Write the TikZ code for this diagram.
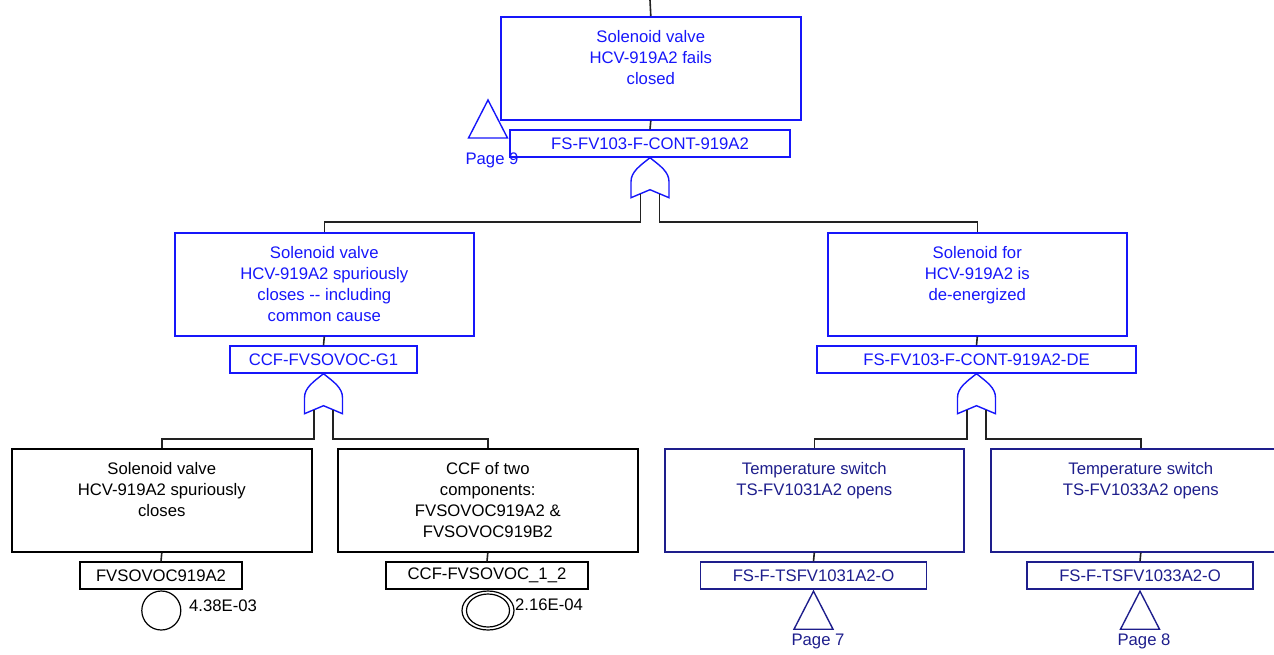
\documentclass[tikz,border=0pt]{standalone}
\usepackage{fontspec}
\setmainfont{Liberation Sans}
\usetikzlibrary{shapes.geometric}
\definecolor{gblue}{RGB}{22,22,250}
\definecolor{navy}{RGB}{30,30,140}
\definecolor{wire}{RGB}{34,34,34}
\begin{document}
\begin{tikzpicture}[x=1pt,y=-1pt,
  every node/.style={font=\fontsize{16.7}{20.8}\selectfont},
  evbox/.style={draw, line width=1.6pt, minimum width=#1, minimum height=103,
    inner sep=0, anchor=north west},
  evtext/.style={anchor=north, align=center, inner sep=0},
  lbl/.style={draw, line width=1.4pt, minimum width=#1, minimum height=27, inner sep=0},
  wire/.style={draw=wire, line width=1.6pt},
  orgate/.pic={
    \draw[line width=1.4pt, line join=miter]
      (0,0) .. controls (-10,8) and (-19,14) .. (-19,24) -- (-19,40) -- (0,32)
      -- (19,40) -- (19,24) .. controls (19,14) and (10,8) .. (0,0) -- cycle;
    \coordinate (-inL) at (-9.5,36);
    \coordinate (-inR) at (9.5,36);
  },
  xfer/.pic={
    \draw[line width=1.4pt, line join=miter] (0,0) -- (-19.5,38) -- (19.5,38) -- cycle;
  }
]
\useasboundingbox (0,0) rectangle (1274,654);

% ---------- top event ----------
\coordinate (topin) at (650,0);
\node[evbox=300, draw=gblue] (top) at (500,16) {};
\node[evtext, text=gblue] (topT) at ([yshift=-14.5pt]top.north)
  {Solenoid valve\\HCV-919A2 fails\\closed};
\node[lbl=280, draw=gblue, text=gblue] (topL) at (650,143.5) {FS-FV103-F-CONT-919A2};
\pic[gblue] (g0) at (topL.south) {orgate};
\pic[gblue] at (488,100) {xfer};
\node[text=gblue, inner sep=0] (p9) at (492,160) {Page 9};

% ---------- second level ----------
\node[evbox=299, draw=gblue] (l2a) at (174,232) {};
\node[evtext, text=gblue] (l2aT) at ([yshift=-14.5pt]l2a.north)
  {Solenoid valve\\HCV-919A2 spuriously\\closes -{}- including\\common cause};
\node[lbl=187, draw=gblue, text=gblue] (l2aL) at (323.5,359.5) {CCF-FVSOVOC-G1};
\pic[gblue] (g1) at (l2aL.south) {orgate};

\node[evbox=299, draw=gblue] (l2b) at (827,232) {};
\node[evtext, text=gblue] (l2bT) at ([yshift=-14.5pt]l2b.north)
  {Solenoid for\\HCV-919A2 is\\de-energized};
\node[lbl=319, draw=gblue, text=gblue] (l2bL) at (976.5,359.5) {FS-FV103-F-CONT-919A2-DE};
\pic[gblue] (g2) at (l2bL.south) {orgate};

% ---------- third level ----------
\node[evbox=300] (l3a) at (11,448) {};
\node[evtext] (l3aT) at ([yshift=-14.5pt]l3a.north)
  {Solenoid valve\\HCV-919A2 spuriously\\closes};
\node[lbl=162] (l3aL) at (161,575.5) {FVSOVOC919A2};
\node[ellipse, draw, line width=1.2pt, minimum width=39, minimum height=39, inner sep=0]
  (be1) at (161.3,610.5) {};
\node[anchor=west, inner sep=0] (pr1) at (189,606) {4.38E-03};

\node[evbox=300] (l3b) at (337,448) {};
\node[evtext] (l3bT) at ([yshift=-14.5pt]l3b.north)
  {CCF of two\\components:\\FVSOVOC919A2 \&\\FVSOVOC919B2};
\node[lbl=202] (l3bL) at (487,575.5) {CCF-FVSOVOC\_1\_2};
\node[ellipse, draw, line width=1.2pt, minimum width=52, minimum height=39, inner sep=0]
  (be2) at (488,610.5) {};
\draw[line width=1.2pt] (be2.center) ellipse (21.5 and 16.5);
\node[anchor=west, inner sep=0] (pr2) at (515,605) {2.16E-04};

\node[evbox=299, draw=navy] (l3c) at (664,448) {};
\node[evtext, text=navy] (l3cT) at ([yshift=-14.5pt]l3c.north)
  {Temperature switch\\TS-FV1031A2 opens};
\node[lbl=226, draw=navy, text=navy] (l3cL) at (813.5,575.5) {FS-F-TSFV1031A2-O};
\pic[navy] at ([yshift=-1.5pt]l3cL.south) {xfer};
\node[text=navy, inner sep=0] (p7) at (818,641.5) {Page 7};

\node[evbox=300, draw=navy] (l3d) at (990,448) {};
\node[evtext, text=navy] (l3dT) at ([yshift=-14.5pt]l3d.north)
  {Temperature switch\\TS-FV1033A2 opens};
\node[lbl=226, draw=navy, text=navy] (l3dL) at (1140,575.5) {FS-F-TSFV1033A2-O};
\pic[navy] at ([yshift=-1.5pt]l3dL.south) {xfer};
\node[text=navy, inner sep=0] (p8) at (1144,641.5) {Page 8};

% ---------- connectors ----------
\coordinate (bus0) at (0,222);
\coordinate (bus1) at (0,439);
\draw[wire] (topin) -- (top.north);
\draw[wire] (top.south) -- (topL.north);
\draw[wire] (g0-inL) -- (g0-inL |- bus0) -| (l2a.north);
\draw[wire] (g0-inR) -- (g0-inR |- bus0) -| (l2b.north);

\draw[wire] (l2a.south) -- (l2aL.north);
\draw[wire] (l2b.south) -- (l2bL.north);
\draw[wire] (g1-inL) -- (g1-inL |- bus1) -| (l3a.north);
\draw[wire] (g1-inR) -- (g1-inR |- bus1) -| (l3b.north);
\draw[wire] (g2-inL) -- (g2-inL |- bus1) -| (l3c.north);
\draw[wire] (g2-inR) -- (g2-inR |- bus1) -| (l3d.north);

\draw[wire] (l3a.south) -- (l3aL.north);
\draw[wire] (l3b.south) -- (l3bL.north);
\draw[wire] (l3c.south) -- (l3cL.north);
\draw[wire] (l3d.south) -- (l3dL.north);
\end{tikzpicture}
\end{document}
